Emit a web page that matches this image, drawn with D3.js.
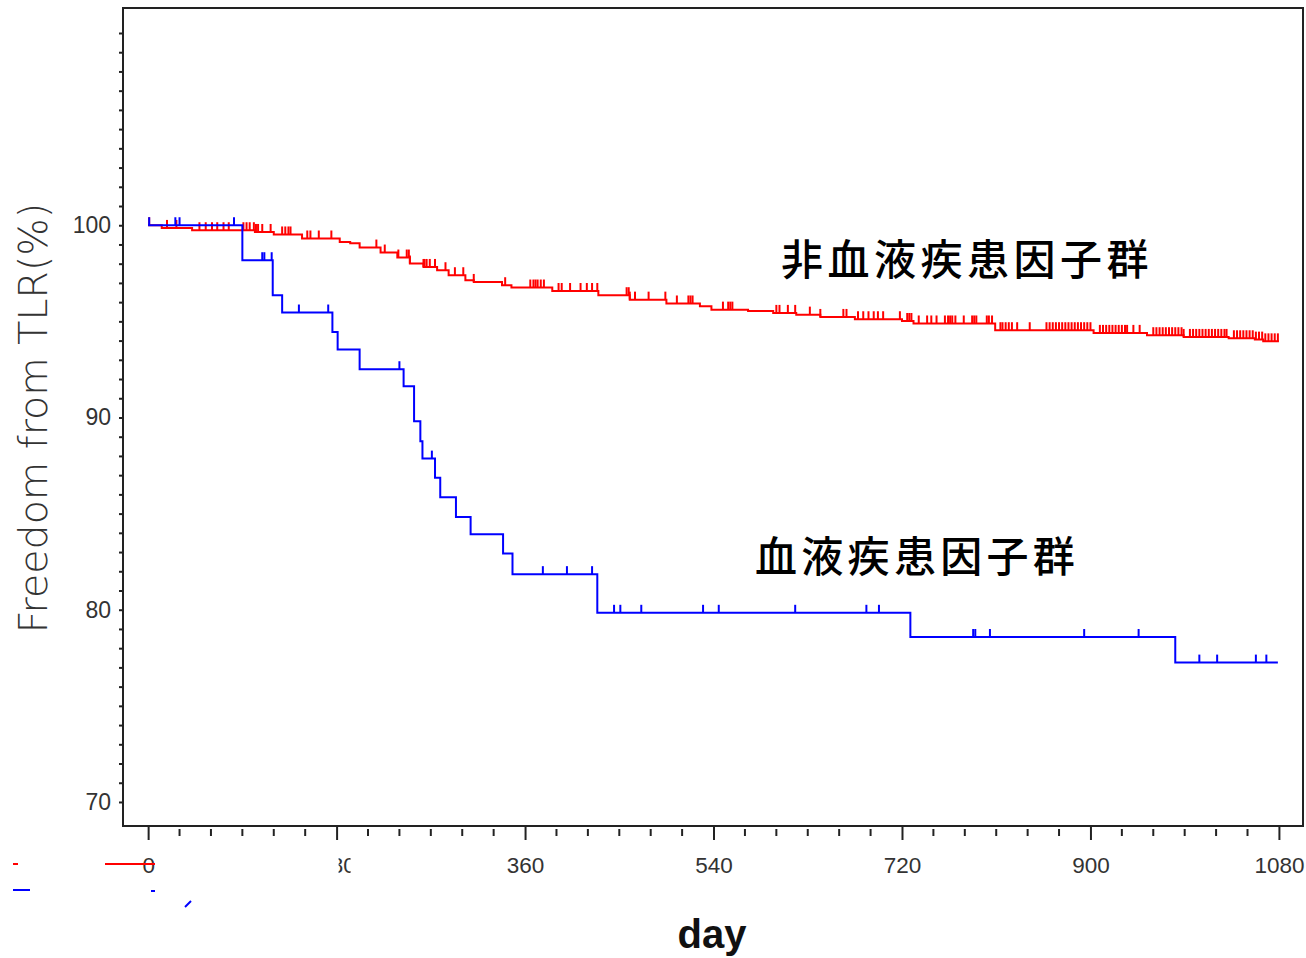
<!DOCTYPE html>
<html>
  <head>
    <meta charset="UTF-8">
    <title>Freedom from TLR</title>
    <script src="https://d3js.org/d3.v7.min.js"></script>
    <style>
      body { margin: 0; background: #fff; }
      svg { display: block; }
    </style>
  </head>
  <body>
    <svg id="chart" width="1306" height="958"></svg>
    <script>
      // Kaplan-Meier steps (day, % free)
      const blueTimes = [0, 90, 119, 128, 176, 181, 202, 244, 254, 260, 262, 274, 279, 294, 308, 339, 348, 429, 728, 981, 1079];
      const blueSurv = [100, 98.18, 96.36, 95.46, 94.45, 93.53, 92.51, 91.62, 89.80, 88.76, 87.86, 86.87, 85.85, 84.82, 83.92, 82.92, 81.85, 79.84, 78.58, 77.25, 77.25];
      const blueCensor = [1, 26, 30, 82, 109, 111, 118, 144, 172, 240, 271, 377, 400, 424, 445, 451, 471, 530, 545, 618, 686, 698, 788, 790, 804, 894, 946, 1004, 1021, 1058, 1068];

      const redTimes = [0, 13, 42, 102, 120, 147, 183, 193, 202, 222, 238, 250, 263, 276, 287, 303, 311, 338, 347, 386, 430, 460, 495, 527, 538, 573, 597, 619, 642, 675, 720, 731, 809, 903, 954, 989, 1032, 1057, 1065, 1080];
      const redSurv = [100, 99.86, 99.74, 99.65, 99.52, 99.31, 99.13, 99.06, 98.84, 98.58, 98.32, 98.01, 97.83, 97.66, 97.40, 97.14, 97.05, 96.88, 96.76, 96.58, 96.36, 96.13, 95.93, 95.79, 95.61, 95.54, 95.44, 95.35, 95.23, 95.11, 95.02, 94.89, 94.54, 94.40, 94.28, 94.19, 94.12, 94.05, 93.96, 93.96];
      const redCensor = [1, 18, 27, 49, 55, 61, 66, 72, 77, 91, 94, 97, 101, 103, 105, 109, 117, 128, 131, 134, 136, 152, 155, 163, 175, 218, 226, 239, 247, 249, 250, 263, 264, 266, 269, 274, 284, 293, 301, 311, 341, 365, 368, 370, 372, 375, 378, 392, 395, 403, 413, 419, 424, 429, 457, 459, 460, 465, 478, 494, 505, 516, 518, 520, 549, 554, 556, 558, 600, 603, 611, 618, 632, 642, 664, 667, 678, 683, 688, 693, 697, 702, 718, 725, 727, 729, 736, 744, 748, 753, 761, 764, 766, 768, 771, 779, 787, 789, 791, 801, 803, 806, 814, 816, 819, 822, 825, 830, 842, 858, 861, 864, 867, 870, 873, 876, 879, 882, 885, 888, 891, 894, 897, 900, 909, 912, 915, 918, 921, 924, 927, 930, 933, 935, 941, 947, 960, 963, 966, 969, 972, 975, 978, 981, 984, 987, 989, 995, 998, 1001, 1004, 1007, 1010, 1013, 1016, 1019, 1022, 1025, 1028, 1030, 1037, 1040, 1043, 1046, 1049, 1052, 1055, 1058, 1061, 1064, 1067, 1070, 1073, 1076, 1079];

      const xMajor = [0, 180, 360, 540, 720, 900, 1080];
      const yMajor = [70, 80, 90, 100];
      const groupLabels = ["非血液疾患因子群", "血液疾患因子群"];

      const svg = d3.select("#chart");
      const frame = { left: 123, top: 8, right: 1303, bottom: 826 };

      const x = d3.scaleLinear().domain([-24, 1103]).range([frame.left, frame.right]);
      const y = d3.scaleLinear().domain([68.75, 111.3]).range([frame.bottom, frame.top]);

      // frame
      svg.append("rect")
        .attr("x", frame.left).attr("y", frame.top)
        .attr("width", frame.right - frame.left).attr("height", frame.bottom - frame.top)
        .attr("fill", "none").attr("stroke", "#222").attr("stroke-width", 2);

      // y axis: a tick each unit, labels every 10
      const yAxis = svg.append("g")
        .attr("transform", `translate(${frame.left},0)`)
        .call(d3.axisLeft(y)
          .tickValues(d3.range(70, 111))
          .tickSize(4)
          .tickPadding(8)
          .tickFormat(d => yMajor.includes(d) ? d : ""));
      yAxis.select(".domain").remove();
      yAxis.selectAll("line").attr("stroke", "#222").attr("stroke-width", 2);
      yAxis.selectAll("text")
        .attr("font-family", "Liberation Sans, Arial, sans-serif")
        .attr("font-size", 23).attr("fill", "#333");

      // x axis: major ticks every 180 days
      const xAxis = svg.append("g")
        .attr("transform", `translate(0,${frame.bottom})`)
        .call(d3.axisBottom(x).tickValues(xMajor).tickSize(14).tickPadding(17)
          .tickFormat(d3.format("d")));
      xAxis.select(".domain").remove();
      xAxis.selectAll("line").attr("stroke", "#222").attr("stroke-width", 2);
      xAxis.selectAll("text")
        .attr("font-family", "Liberation Sans, Arial, sans-serif")
        .attr("font-size", 22.5).attr("fill", "#333");

      // the 180 label is mostly wiped out in the source
      svg.append("clipPath").attr("id", "clip180")
        .append("rect").attr("x", 1.5).attr("y", 0).attr("width", 12).attr("height", 60);
      xAxis.selectAll(".tick").filter(d => d === 180).select("text")
        .attr("clip-path", "url(#clip180)");

      // minor x ticks every 30 days (detached from the frame)
      svg.append("g").selectAll("line")
        .data(d3.range(30, 1080, 30).filter(d => d % 180 !== 0))
        .join("line")
        .attr("x1", d => x(d)).attr("x2", d => x(d))
        .attr("y1", frame.bottom + 3).attr("y2", frame.bottom + 10)
        .attr("stroke", "#222").attr("stroke-width", 2);

      // axis titles
      svg.append("text")
        .attr("transform", "translate(33,418) rotate(-90)")
        .attr("text-anchor", "middle")
        .attr("dominant-baseline", "central")
        .attr("font-family", "DejaVu Sans, sans-serif")
        .attr("font-weight", 200)
        .attr("font-size", 39.5).attr("fill", "#333")
        .text("Freedom from TLR(%)");

      svg.append("text")
        .attr("x", 712).attr("y", 948)
        .attr("text-anchor", "middle")
        .attr("font-family", "Liberation Sans, Arial, sans-serif")
        .attr("font-weight", "bold")
        .attr("font-size", 40).attr("fill", "#111")
        .text("day");

      // curves
      const line = d3.line()
        .x(d => x(d[0]))
        .y(d => y(d[1]))
        .curve(d3.curveStepAfter);

      function drawCurve(times, surv, censor, color) {
        const pts = times.map((t, i) => [t, surv[i]]);
        const level = t => surv[d3.bisectRight(times, t) - 1];
        const g = svg.append("g");
        g.append("path")
          .attr("d", line(pts))
          .attr("fill", "none")
          .attr("stroke", color)
          .attr("stroke-width", 2);
        g.selectAll("line")
          .data(censor)
          .join("line")
          .attr("x1", d => x(d)).attr("x2", d => x(d))
          .attr("y1", d => y(level(d)))
          .attr("y2", d => y(level(d)) - 8)
          .attr("stroke", color)
          .attr("stroke-width", 2);
      }

      drawCurve(redTimes, redSurv, redCensor, "#ff0000");
      drawCurve(blueTimes, blueSurv, blueCensor, "#0000ff");

      // group labels
      svg.append("text")
        .attr("x", 781).attr("y", 256)
        .attr("dominant-baseline", "central")
        .attr("font-family", "Noto Sans CJK JP, sans-serif")
        .attr("font-weight", 500)
        .attr("font-size", 42).attr("letter-spacing", 4.5).attr("fill", "#000")
        .text(groupLabels[0]);

      svg.append("text")
        .attr("x", 755).attr("y", 553)
        .attr("dominant-baseline", "central")
        .attr("font-family", "Noto Sans CJK JP, sans-serif")
        .attr("font-weight", 500)
        .attr("font-size", 42).attr("letter-spacing", 4.3).attr("fill", "#000")
        .text(groupLabels[1]);

      // leftover legend fragments along the bottom left
      const scraps = [
        [13, 864, 18, 864, "#ff0000"],
        [105, 864, 155, 864, "#ff0000"],
        [13, 890, 30, 890, "#0000ff"],
        [151, 891, 155, 891, "#0000ff"],
        [185, 907, 191, 901, "#0000ff"]
      ];
      svg.append("g").selectAll("line")
        .data(scraps)
        .join("line")
        .attr("x1", d => d[0]).attr("y1", d => d[1])
        .attr("x2", d => d[2]).attr("y2", d => d[3])
        .attr("stroke", d => d[4]).attr("stroke-width", 2);
    </script>
  </body>
</html>
